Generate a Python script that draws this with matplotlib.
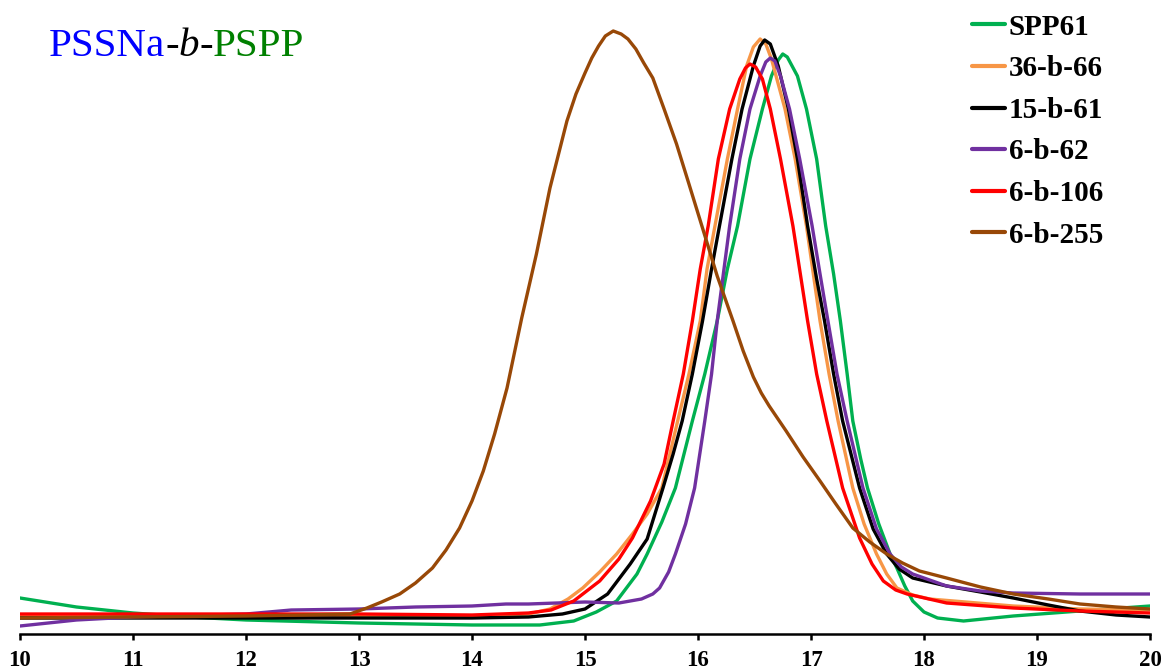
import matplotlib
matplotlib.use('Agg')
import matplotlib.pyplot as plt
from matplotlib.offsetbox import TextArea, HPacker, AnchoredOffsetbox

# --- GPC traces (elution time in min, detector response in a.u.) ---
spp61_t = [10.0, 10.5, 11.0, 11.5, 12.0, 13.0, 14.0, 14.6, 14.9, 15.1, 15.28, 15.46, 15.55,
           15.68, 15.80, 15.95, 16.06, 16.17, 16.26, 16.35, 16.46, 16.57, 16.65, 16.71,
           16.75, 16.79, 16.88, 16.96, 17.05, 17.13, 17.20, 17.26, 17.32, 17.37, 17.44,
           17.50, 17.60, 17.70, 17.76, 17.83, 17.90, 18.0, 18.12, 18.35, 18.79, 19.38, 20.0]
spp61_r = [36, 27, 21, 17, 14, 11, 9, 9, 13, 22, 33, 60, 80,
           112, 146, 213, 260, 313, 365, 408, 475, 525, 558, 574,
           580, 577, 558, 525, 475, 408, 360, 313, 260, 213, 175,
           146, 110, 80, 66, 48, 33, 22, 16, 13, 18, 23, 28]

b36_66_t = [10.0, 12.0, 14.0, 14.5, 14.69, 14.85, 14.98, 15.13, 15.28, 15.42, 15.55, 15.68,
            15.82, 15.92, 16.02, 16.08, 16.15, 16.26, 16.35, 16.43, 16.49, 16.55, 16.60,
            16.65, 16.77, 16.86, 16.96, 17.08, 17.16, 17.24, 17.37, 17.47, 17.58, 17.67,
            17.76, 17.90, 18.05, 18.79, 19.38, 20.0]
b36_66_r = [18, 18, 17, 20, 25, 35, 46, 62, 80, 100, 120, 146,
            213, 260, 313, 365, 408, 475, 525, 568, 587, 595, 590,
            575, 525, 475, 408, 313, 260, 213, 146, 110, 80, 60,
            46, 39, 35, 28, 25, 24]

b15_61_t = [10.0, 12.0, 14.0, 14.5, 14.8, 15.0, 15.2, 15.4, 15.55, 15.69, 15.78, 15.86,
            15.95, 16.04, 16.12, 16.19, 16.30, 16.39, 16.49, 16.55, 16.59, 16.64, 16.71,
            16.80, 16.88, 16.97, 17.05, 17.12, 17.20, 17.28, 17.43, 17.55, 17.67, 17.78,
            17.90, 18.20, 18.5, 18.79, 19.1, 19.38, 19.7, 20.0]
b15_61_r = [16, 16, 16, 17, 20, 25, 40, 70, 95, 146, 180, 213,
            260, 313, 365, 408, 475, 525, 568, 588, 594, 590, 568,
            525, 475, 408, 355, 313, 260, 213, 146, 105, 80, 65,
            56, 48, 42, 36, 29, 23, 19, 17]

b6_62_t = [10.0, 10.5, 11.0, 12.0, 12.4, 13.0, 13.5, 14.0, 14.3, 14.5, 15.0, 15.3, 15.5,
           15.6, 15.66, 15.74, 15.80, 15.89, 15.97, 16.06, 16.12, 16.17, 16.23, 16.28,
           16.37, 16.46, 16.55, 16.60, 16.64, 16.68, 16.73, 16.81, 16.90, 17.01, 17.08,
           17.15, 17.23, 17.32, 17.46, 17.58, 17.70, 17.80, 17.90, 18.20, 18.5, 18.79,
           19.38, 20.0]
b6_62_r = [8, 14, 17, 20, 24, 25, 27, 28, 30, 30, 32, 31, 35,
           40, 46, 62, 80, 110, 146, 213, 260, 313, 365, 408,
           475, 525, 558, 572, 576, 573, 558, 525, 475, 408, 360,
           313, 260, 213, 146, 105, 80, 67, 60, 48, 43, 41,
           40, 40]

b6_106_t = [10.0, 11.0, 12.0, 13.0, 14.0, 14.5, 14.7, 14.9, 15.13, 15.3, 15.42, 15.58,
            15.70, 15.78, 15.87, 15.95, 16.02, 16.09, 16.18, 16.28, 16.37, 16.42, 16.46,
            16.51, 16.57, 16.64, 16.73, 16.84, 16.97, 17.05, 17.14, 17.28, 17.43, 17.54,
            17.64, 17.75, 17.85, 18.2, 18.79, 19.38, 20.0]
b6_106_r = [20, 20, 20, 20, 19, 21, 24, 33, 53, 75, 96, 133,
            170, 213, 260, 313, 365, 408, 475, 525, 555, 566, 570,
            567, 555, 525, 475, 408, 313, 260, 213, 146, 96, 70,
            53, 44, 40, 31, 26, 23, 21]

b6_255_t = [10.0, 11.0, 12.0, 12.5, 12.92, 13.07, 13.2, 13.36, 13.5, 13.65, 13.77, 13.89,
            14.0, 14.10, 14.2, 14.31, 14.44, 14.57, 14.69, 14.84, 14.92, 15.0, 15.06,
            15.12, 15.18, 15.25, 15.32, 15.38, 15.45, 15.52, 15.60, 15.7, 15.81, 15.92,
            16.04, 16.17, 16.31, 16.40, 16.49, 16.56, 16.63, 16.78, 16.93, 17.08, 17.22,
            17.37, 17.52, 17.67, 17.81, 17.96, 18.20, 18.5, 18.79, 19.1, 19.38, 19.7, 20.0]
b6_255_r = [16, 17, 18, 19, 20, 26, 32, 40, 51, 66, 84, 106,
            133, 163, 200, 246, 316, 380, 446, 513, 540, 561, 576,
            588, 598, 603, 600, 595, 585, 571, 556, 525, 490, 450,
            406, 358, 313, 283, 257, 241, 228, 203, 177, 153, 130,
            106, 92, 80, 71, 63, 56, 47, 40, 35, 30, 27, 25]

series = [
    ('SPP61', spp61_t, spp61_r, '#00B050'),
    ('36-b-66', b36_66_t, b36_66_r, '#F79646'),
    ('15-b-61', b15_61_t, b15_61_r, '#000000'),
    ('6-b-62', b6_62_t, b6_62_r, '#7030A0'),
    ('6-b-106', b6_106_t, b6_106_r, '#FF0000'),
    ('6-b-255', b6_255_t, b6_255_r, '#984807'),
]
x_ticks = list(range(10, 21))

serif = 'Liberation Serif'

fig = plt.figure(figsize=(11.65, 6.72), dpi=100)
ax = fig.add_axes([20 / 1165, 38 / 672, 1130 / 1165, 634 / 672])

for name, t, r, c in series:
    ax.plot(t, r, color=c, lw=2.4, label=name, solid_capstyle='round', solid_joinstyle='round')

ax.set_xlim(10, 20)
ax.set_ylim(0, 634)
ax.set_xticks(x_ticks)
ax.set_xticklabels([str(v) for v in x_ticks], fontfamily=serif, fontweight='bold', fontsize=16.5)
ax.set_yticks([])
for side in ['top', 'right', 'left']:
    ax.spines[side].set_visible(False)
ax.spines['bottom'].set_linewidth(1.8)
ax.tick_params(axis='x', direction='out', length=4.5, width=1.8, pad=7)
ax.patch.set_alpha(0)

leg = ax.legend(loc='upper right', bbox_to_anchor=(0.969, 1.0 - 2 / 634), frameon=False,
                prop={'family': serif, 'weight': 'bold', 'size': 21},
                handlelength=1.13, handletextpad=0.14, labelspacing=0.5,
                borderaxespad=0.0)
for h in leg.get_lines():
    h.set_linewidth(3)

# multi-coloured title text
parts = [('PSSNa', '#0000FF', 'normal'), ('-', 'black', 'normal'), ('b', 'black', 'italic'),
         ('-', 'black', 'normal'), ('PSPP', '#008000', 'normal')]
boxes = [TextArea(s, textprops=dict(color=c, fontfamily=serif, fontstyle=st, fontsize=29.5))
         for s, c, st in parts]
pack = HPacker(children=boxes, align='baseline', pad=0, sep=0)
anch = AnchoredOffsetbox(loc='upper left', child=pack, pad=0, frameon=False,
                         bbox_to_anchor=(49 / 1165, 1 - 28 / 672),
                         bbox_transform=fig.transFigure, borderpad=0)
fig.add_artist(anch)

fig.savefig('out.png', dpi=100)
